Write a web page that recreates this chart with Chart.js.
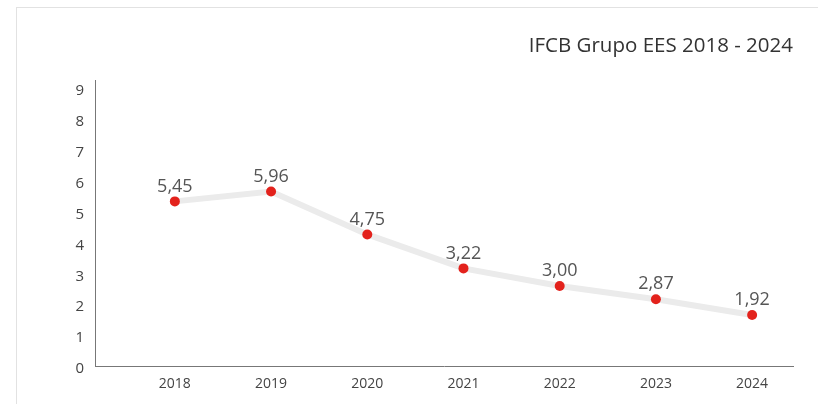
<!DOCTYPE html>
<html>
<head>
<meta charset="utf-8">
<script src="https://cdn.jsdelivr.net/npm/chart.js@4"></script>
<style>
  html, body { margin: 0; padding: 0; background: #fff; }
  #wrap { position: relative; width: 818px; height: 404px; }
  #frame { position: absolute; left: 16px; top: 7px; right: 0; bottom: 0;
           border-top: 1px solid #e2e2e2; border-left: 1px solid #e2e2e2; }
  canvas { position: absolute; left: 0; top: 0; }
</style>
</head>
<body>
<div id="wrap">
  <div id="frame"></div>
  <canvas id="ifcbChart" width="818" height="404"></canvas>
</div>
<script>
const years = [2018, 2019, 2020, 2021, 2022, 2023, 2024];
// heights of the points as drawn against the axis
const values = [5.33, 5.65, 4.26, 3.16, 2.59, 2.16, 1.65];
// numbers printed over the points
const valueLabels = ['5,45', '5,96', '4,75', '3,22', '3,00', '2,87', '1,92'];

const fontFamily = '"Open Sans", Lato, sans-serif';

// draws the number above each point
const pointLabels = {
  id: 'pointLabels',
  afterDatasetsDraw(chart) {
    const ctx = chart.ctx;
    const meta = chart.getDatasetMeta(0);
    ctx.save();
    ctx.font = '18px ' + fontFamily;
    ctx.fillStyle = '#555';
    ctx.textAlign = 'center';
    ctx.textBaseline = 'middle';
    meta.data.forEach((pt, i) => {
      ctx.fillText(valueLabels[i], pt.x, pt.y - 15);
    });
    ctx.restore();
  }
};

new Chart(document.getElementById('ifcbChart'), {
  type: 'line',
  data: {
    datasets: [{
      label: 'IFCB',
      data: years.map((y, i) => ({ x: y, y: values[i] })),
      borderColor: '#ebebeb',
      borderWidth: 6,
      tension: 0,
      pointRadius: 5,
      pointHoverRadius: 5,
      pointBackgroundColor: '#e3221c',
      pointBorderWidth: 0
    }]
  },
  options: {
    responsive: false,
    animation: false,
    layout: { padding: { left: 0, right: 25, top: 0, bottom: 0 } },
    plugins: {
      legend: { display: false },
      tooltip: { enabled: false },
      title: {
        display: true,
        text: 'IFCB Grupo EES 2018 - 2024',
        align: 'end',
        color: '#333',
        font: { family: fontFamily, size: 20.5, weight: 'normal', lineHeight: 1.2 },
        padding: { top: 34, bottom: 21.4 }
      }
    },
    scales: {
      x: {
        type: 'linear',
        min: 2017.17,
        max: 2024.425,
        grid: { display: false, drawTicks: false },
        border: { display: true, color: '#777', width: 1 },
        ticks: {
          stepSize: 1,
          includeBounds: false,
          padding: 10,
          color: '#444',
          font: { family: fontFamily, size: 14 },
          callback: v => String(v)
        },
        afterFit: s => { s.height = 38; }
      },
      y: {
        min: 0,
        max: 9.26,
        grid: { display: false, drawTicks: false },
        border: { display: true, color: '#777', width: 1 },
        ticks: {
          stepSize: 1,
          includeBounds: false,
          padding: 11,
          labelOffset: 3,
          color: '#444',
          font: { family: fontFamily, size: 15 }
        },
        afterFit: s => { s.width = 95; }
      }
    }
  },
  plugins: [pointLabels]
});
</script>
</body>
</html>
